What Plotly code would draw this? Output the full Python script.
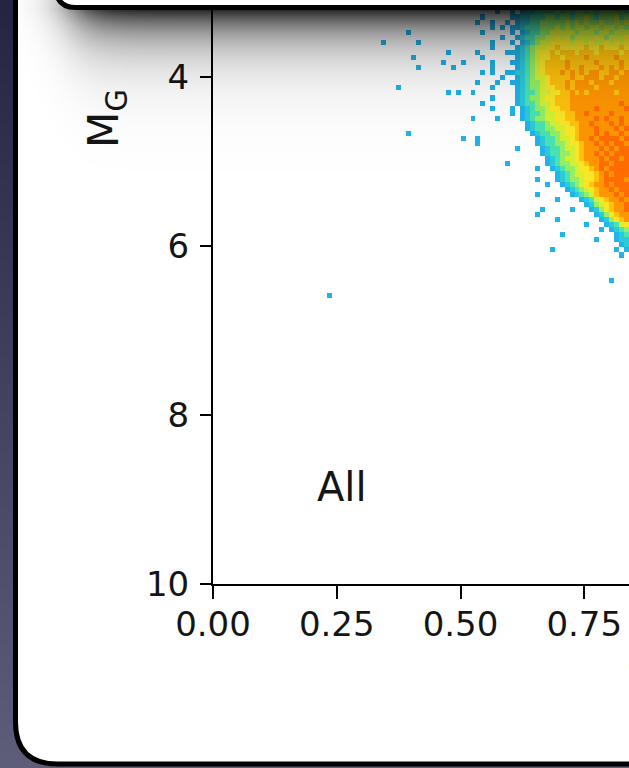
import base64
import struct
import zlib

import numpy as np
import plotly.graph_objects as go

W, H = 629, 768

# ---------------- Hess diagram data ----------------
# Binning of the colour (BP-RP) and absolute magnitude (M_G) axes
BP_RP_EDGE0 = 0.20
BP_RP_STEP = 0.01
N_BP_RP = 64
MG_EDGE0 = 3.08
MG_STEP = 0.06
N_MG = 62

# Dense part of the diagram: one string per M_G bin (top to bottom),
# one character per colour bin starting at BP-RP = 0.50.
# '.' = empty bin, '1'..'9' = density level of the bin.
DENSE_BP_RP0 = 0.50
dense_rows = [
    "....1..1.1" ".122232323" "3323433434" "3434",
    "...1..1..." ".122333334" "3433434343" "4344",
    ".......1.." "1.12233334" "3434434344" "4443",
    "....1....." "1122333443" "4434454344" "4534",
    "...1..1..1" ".122334444" "4545454454" "4545",
    "......1.1." "1123334445" "4545545545" "5454",
    "....1....." "1.12334455" "5554555455" "4555",
    "........1." ".123344556" "5645555654" "5556",
    "......1..." "1.12345566" "6656656556" "5656",
    "......1..." ".123455667" "6666676676" "6676",
    "...1.....1" "1123456676" "7776777677" "7767",
    "....1....." ".123456677" "6777787777" "7877",
    "1.....1..." "1123456777" "7877777877" "7787",
    "......1..." ".123456777" "7877877787" "8787",
    "....1.1..1" "1223456777" "8787878877" "8878",
    "........1." ".123455677" "7787788878" "8788",
    "...1...1.." "1123445677" "7878887888" "7888",
    "......1..." ".123445667" "7878888788" "8888",
    "..1......." ".123345566" "7787878888" "8788",
    "......1..." ".123445667" "7788888888" "8888",
    "....1....." ".123345567" "7788888888" "8898",
    "......1..." "1.12344566" "7788888988" "8889",
    ".........." "1.12334556" "6778898888" "9888",
    "..1....1.." "..12344556" "6778888989" "8898",
    ".........." "...1233455" "6677889888" "9898",
    ".........." "...1233445" "5667888988" "8989",
    ".........." "....123344" "5667888989" "8898",
    "1..1......" ".....12334" "5567889899" "9989",
    "...1......" ".....12334" "4566788989" "8998",
    ".........." ".1....1233" "4556788898" "9899",
    ".........." "......1233" "4456788989" "8999",
    ".........." ".......123" "4556788898" "9989",
    ".........1" ".......123" "4455678899" "8999",
    ".........." ".....1..12" "3445667898" "9999",
    ".........." ".........1" "2345566789" "8999",
    ".........." ".....1...1" "2344566789" "9998",
    ".........." ".......1.." "1234567889" "8999",
    ".........." ".........." ".123456788" "9899",
    ".........." ".....1...." "..12345788" "8989",
    ".........." ".........1" "....123567" "8898",
    ".........." ".........." ".....12456" "7889",
    ".........." "......1..." "..1...1246" "7889",
    ".........." ".....1...." ".......124" "6788",
    ".........." ".........1" "........12" "4678",
    ".........." ".........." ".....1...1" "2356",
    ".........." ".........." "........1." "1234",
    ".........." ".........." "1........." ".123",
    ".........." ".........." ".......1.." ".122",
    ".........." ".........." ".........." "..12",
    ".........." "........1." ".........." ".1.1",
    ".........." ".........." ".........." "..1.",
]

# Isolated stars outside the dense part (single-count bins)
sparse_bp_rp = [0.394, 0.420, 0.347, 0.404, 0.420, 0.463, 0.473, 0.483,
                0.378, 0.473, 0.495, 0.394, 0.234, 0.808]
sparse_mg = [3.47, 3.56, 3.60, 3.80, 3.92, 3.83, 3.70, 3.92,
             4.13, 4.18, 4.18, 4.66, 6.58, 6.39]

panel_label = "All"
x_tickvals = [0.0, 0.25, 0.5, 0.75]
x_ticktext = ["0.00", "0.25", "0.50", "0.75"]
y_tickvals = [4, 6, 8, 10]
y_ticktext = ["4", "6", "8", "10"]
x_title = "G<sub>BP</sub> − G<sub>RP</sub>"
y_title = "M<sub>G</sub>"

# ---------------- build the 2D histogram ----------------
z = np.full((N_MG, N_BP_RP), np.nan)
col_off = int(round((DENSE_BP_RP0 - BP_RP_EDGE0) / BP_RP_STEP))
for i, row in enumerate(dense_rows):
    assert len(row) == 34, (i, len(row))
    for j, ch in enumerate(row):
        if ch != ".":
            z[i, col_off + j] = int(ch)
for bp, mg in zip(sparse_bp_rp, sparse_mg):
    k = int((bp - BP_RP_EDGE0) / BP_RP_STEP)
    i = int((mg - MG_EDGE0) / MG_STEP)
    if np.isnan(z[i, k]):
        z[i, k] = 1

x_centers = BP_RP_EDGE0 + (np.arange(N_BP_RP) + 0.5) * BP_RP_STEP
y_centers = MG_EDGE0 + (np.arange(N_MG) + 0.5) * MG_STEP

level_colors = ["#1fb4ea", "#2ccbd9", "#4ae3b2", "#92ef66", "#d4f034",
                "#fbe626", "#ffc20c", "#ff9600", "#ff6c00"]
colorscale = []
for n, c in enumerate(level_colors):
    colorscale.append([n / 9, c])
    colorscale.append([(n + 1) / 9, c])

# ---------------- pixel <-> paper helpers ----------------
def px(x, y):
    return x / W, 1 - y / H


def path_from_px(cmds):
    out = []
    for cmd in cmds:
        letter, pts = cmd[0], cmd[1:]
        coords = " ".join("%.5f,%.5f" % px(*p) for p in pts)
        out.append(letter + coords)
    return " ".join(out) + " Z"


def png_uri(rgba):
    h, w, _ = rgba.shape
    raw = b"".join(b"\x00" + rgba[r].tobytes() for r in range(h))

    def chunk(tag, data):
        return (struct.pack(">I", len(data)) + tag + data
                + struct.pack(">I", zlib.crc32(tag + data) & 0xFFFFFFFF))

    png = (b"\x89PNG\r\n\x1a\n"
           + chunk(b"IHDR", struct.pack(">IIBBBBB", w, h, 8, 6, 0, 0, 0))
           + chunk(b"IDAT", zlib.compress(raw, 9))
           + chunk(b"IEND", b""))
    return "data:image/png;base64," + base64.b64encode(png).decode()


# slide background: vertical navy gradient
ty = np.linspace(0, 1, H)[:, None]
top_c = np.array([36, 38, 66])
bot_c = np.array([94, 94, 122])
bg = np.zeros((H, 4, 4), dtype=np.uint8)
bg[..., :3] = (top_c + (bot_c - top_c) * ty)[:, None, :].astype(np.uint8)
bg[..., 3] = 255
bg_uri = png_uri(bg)

# soft drop shadow under the upper panel
SH_H = 220
ys = np.arange(SH_H)[:, None].astype(float)
xs = np.arange(W)[None, :].astype(float)
g = np.exp(-np.clip(ys - 9, 0, None) / 30.0)
hfall = 0.5 * (1 + np.tanh((xs - 72) / 28.0))
alpha = 0.86 * g * hfall
sh = np.zeros((SH_H, W, 4), dtype=np.uint8)
sh[..., 3] = np.clip(alpha * 255, 0, 255).astype(np.uint8)
shadow_uri = png_uri(sh)

# ---------------- figure ----------------
X0_PX, X_SCALE = 213.0, 495.0      # px of BP-RP = 0, px per unit
Y10_PX, Y_SCALE = 584.0, 84.5      # px of M_G = 10, px per unit

fig = go.Figure()
fig.add_trace(go.Heatmap(
    x=x_centers, y=y_centers, z=z,
    colorscale=colorscale, zmin=0.5, zmax=9.5,
    showscale=False, hoverinfo="skip", zsmooth=False,
))

axis_common = dict(
    showline=True, linecolor="black", linewidth=2,
    ticks="outside", tickwidth=2, tickcolor="black",
    showgrid=False, zeroline=False, automargin=False,
    tickfont=dict(family="DejaVu Sans", size=34, color="#151515"),
)

fig.update_layout(
    width=W, height=H,
    margin=dict(l=0, r=0, t=0, b=0, pad=0),
    paper_bgcolor="#3a3c5a",
    plot_bgcolor="rgba(0,0,0,0)",
    showlegend=False,
    xaxis=dict(
        domain=[X0_PX / W, 1],
        range=[0, (W - X0_PX) / X_SCALE],
        tickvals=x_tickvals, ticktext=x_ticktext,
        ticklen=13, ticklabelstandoff=-4,
        **axis_common,
    ),
    yaxis=dict(
        domain=[(H - Y10_PX) / H, 1],
        range=[10, 10 - Y10_PX / Y_SCALE],
        tickvals=y_tickvals, ticktext=y_ticktext,
        ticklen=11, ticklabelstandoff=4,
        **axis_common,
    ),
    images=[
        dict(source=bg_uri, xref="paper", yref="paper", x=0, y=1,
             sizex=1, sizey=1, sizing="stretch", xanchor="left",
             yanchor="top", layer="below"),
        dict(source=shadow_uri, xref="paper", yref="paper", x=0, y=1,
             sizex=1, sizey=SH_H / H, sizing="stretch", xanchor="left",
             yanchor="top", layer="above"),
    ],
    shapes=[
        # white slide panel holding the plot
        dict(type="path", xref="paper", yref="paper", layer="below",
             path=path_from_px([("M", (15.5, -40)), ("L", (15.5, 722)),
                                ("Q", (15.5, 764), (57.5, 764)),
                                ("L", (700, 764)), ("L", (700, -40))]),
             fillcolor="white", line=dict(color="black", width=5)),
        # bottom of the panel above
        dict(type="path", xref="paper", yref="paper", layer="above",
             path=path_from_px([("M", (56, -60)), ("L", (56, -12.5)),
                                ("Q", (56, 7.5), (76, 7.5)),
                                ("L", (700, 7.5)), ("L", (700, -60))]),
             fillcolor="white", line=dict(color="black", width=5)),
    ],
    annotations=[
        dict(text=panel_label, xref="x", yref="y",
             x=(315 - X0_PX) / X_SCALE, y=10 - (Y10_PX - 487) / Y_SCALE,
             xanchor="left", yanchor="middle", showarrow=False,
             font=dict(family="DejaVu Sans", size=40, color="#151515")),
        dict(text=y_title, xref="paper", yref="paper",
             x=107 / W, y=1 - 119 / H, textangle=-90,
             xanchor="center", yanchor="middle", showarrow=False,
             font=dict(family="DejaVu Sans", size=42, color="#151515")),
        dict(text=x_title, xref="paper", yref="paper",
             x=625 / W, y=1 - 670 / H,
             xanchor="left", yanchor="middle", showarrow=False,
             font=dict(family="DejaVu Sans", size=42, color="#151515")),
    ],
)

fig.write_html("out.html")
